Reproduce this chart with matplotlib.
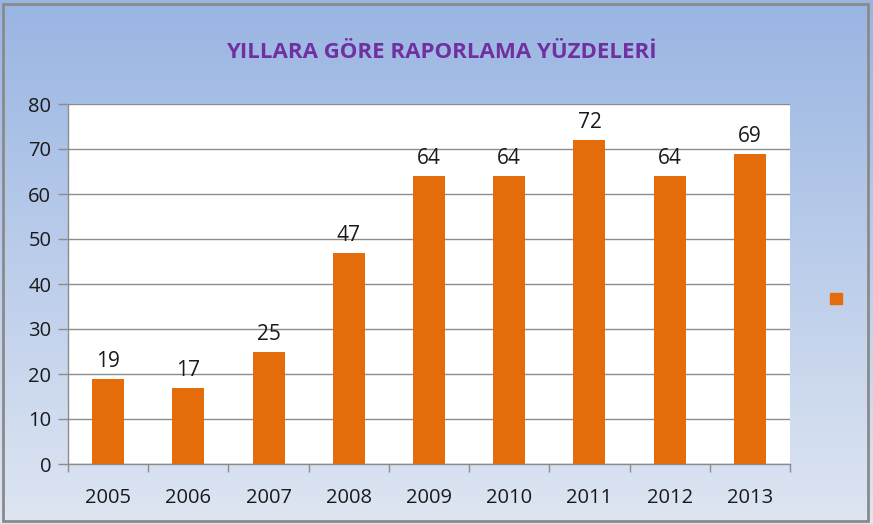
import numpy as np
import matplotlib
matplotlib.use("Agg")
import matplotlib.pyplot as plt
from matplotlib.patches import Rectangle

# Data
years = ['2005', '2006', '2007', '2008', '2009', '2010', '2011', '2012', '2013']
percent = [19, 17, 25, 47, 64, 64, 72, 64, 69]

plt.rcParams['font.family'] = ['Open Sans', 'DejaVu Sans']

W, H = 873, 524
fig = plt.figure(figsize=(W / 100, H / 100), dpi=100)

# Gradient background (darker blue at top, lighter at bottom)
bg = fig.add_axes([0, 0, 1, 1], zorder=-10)
grad = np.linspace(0, 1, 256).reshape(-1, 1)
top = np.array([0.60, 0.71, 0.89])
bot = np.array([0.87, 0.90, 0.95])
img = top + (bot - top) * grad[:, :, None]
bg.imshow(img, aspect='auto', extent=[0, 1, 0, 1], origin='upper')
bg.set_xlim(0, 1)
bg.set_ylim(0, 1)
bg.axis('off')
bg.add_patch(Rectangle((0.004, 0.006), 0.99, 0.987, fill=False,
                       edgecolor='#8a8a8a', linewidth=2, transform=bg.transAxes))

# Plot area
x0, x1 = 68 / W, 790 / W
y0, y1 = 1 - 464 / H, 1 - 104 / H
ax = fig.add_axes([x0, y0, x1 - x0, y1 - y0])
ax.set_facecolor('white')

x = np.arange(len(years))
ax.bar(x, percent, width=0.4, color='#E46C0A', zorder=3)
for xi, v in zip(x, percent):
    ax.annotate(str(v), (xi, v), xytext=(0, 5), textcoords='offset points',
                ha='center', va='bottom', fontsize=15, color='#1a1a1a')

ax.set_xlim(-0.5, len(years) - 0.5)
ax.set_ylim(0, 80)
ax.set_yticks(range(0, 81, 10))
ax.yaxis.grid(True, color='#8c8c8c', linewidth=1)
ax.set_axisbelow(True)

ax.set_xticks(x)
ax.set_xticklabels(years)
ax.set_xticks(np.arange(-0.5, len(years)), minor=True)
ax.tick_params(axis='x', which='major', length=0, pad=17, labelsize=14.5,
               labelcolor='#1a1a1a')
ax.tick_params(axis='x', which='minor', length=6, color='#8c8c8c', width=1)
ax.tick_params(axis='y', length=7, color='#8c8c8c', width=1, pad=5,
               labelsize=14.5, labelcolor='#1a1a1a')

for s in ['top', 'right']:
    ax.spines[s].set_visible(False)
for s in ['left', 'bottom']:
    ax.spines[s].set_color('#8c8c8c')
    ax.spines[s].set_linewidth(1)

# Title
fig.text(441 / W, 1 - 52 / H, 'YILLARA GÖRE RAPORLAMA YÜZDELERİ',
         ha='center', va='center', fontsize=16, fontweight='bold',
         color='#7030A0')

# Legend marker with no label
fig.legend(handles=[Rectangle((0, 0), 1, 1, color='#E46C0A')], labels=[''],
           loc='center', bbox_to_anchor=(836 / W, 1 - 300 / H), frameon=False,
           handlelength=0.9, handleheight=0.9, handletextpad=0)

fig.savefig('out.png', dpi=100)
